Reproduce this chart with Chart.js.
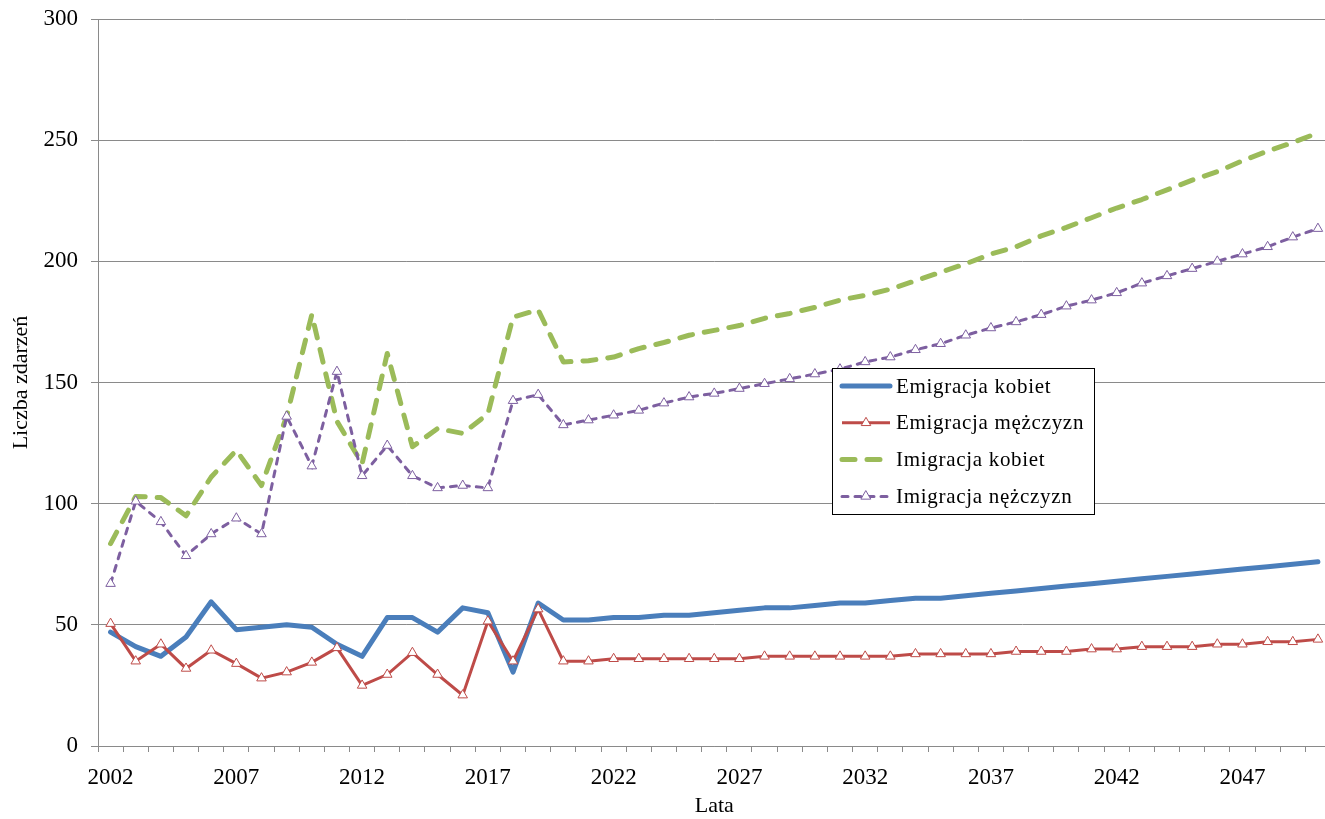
<!DOCTYPE html>
<html>
<head>
<meta charset="utf-8">
<script src="https://cdn.jsdelivr.net/npm/chart.js@4/dist/chart.umd.min.js"></script>
<style>
  html, body { margin: 0; padding: 0; background: #fff; overflow: hidden; }
  #wrap { width: 1337px; height: 819px; }
</style>
</head>
<body>
<div id="wrap"><canvas id="migChart" width="1337" height="819"></canvas></div>
<script>
const years = ['2002','2003','2004','2005','2006','2007','2008','2009','2010','2011',
  '2012','2013','2014','2015','2016','2017','2018','2019','2020','2021',
  '2022','2023','2024','2025','2026','2027','2028','2029','2030','2031',
  '2032','2033','2034','2035','2036','2037','2038','2039','2040','2041',
  '2042','2043','2044','2045','2046','2047','2048','2049','2050']

const shownYears = ['2002','2007','2012','2017','2022','2027','2032','2037','2042','2047']

const emigracjaKobiet = [47, 41, 37, 45, 59.5, 48, 49, 50, 49, 42,
  37, 53, 53, 47, 57, 55, 30.5, 59, 52, 52,
  53, 53, 54, 54, 55, 56, 57, 57, 58, 59,
  59, 60, 61, 61, 62, 63, 64, 65, 66, 67,
  68, 69, 70, 71, 72, 73, 74, 75, 76]

const emigracjaMezczyzn = [50.5, 35, 42, 32, 39.5, 34, 28, 30.5, 34.5, 40.5,
  25, 29.5, 38.5, 29.5, 21, 51.5, 35, 56.5, 35, 35,
  36, 36, 36, 36, 36, 36, 37, 37, 37, 37,
  37, 37, 38, 38, 38, 38, 39, 39, 39, 40,
  40, 41, 41, 41, 42, 42, 43, 43, 44]

const imigracjaKobiet = [83.5, 103, 102.5, 95, 111, 122, 107.5, 136, 178, 134,
  116.5, 162, 123.5, 131, 129, 137, 177, 180, 158.5, 159,
  160.5, 164, 166.5, 169.5, 171.5, 173.5, 176.5, 178.5, 181, 184,
  186, 188.5, 192, 195.5, 199, 203, 206, 210.5, 214, 218,
  222, 225.5, 229.5, 233.5, 237, 241.5, 245.5, 249, 253]

const imigracjaMezczyzn = [67, 101, 92.5, 78.5, 87.5, 94, 87.5, 136, 115.5, 154.5,
  111.5, 124, 111.5, 106.5, 107.5, 106.5, 142.5, 145, 132.5, 134.5,
  136.5, 138.5, 141.5, 144, 145.5, 147.5, 149.5, 151.5, 153.5, 155.5,
  158.5, 160.5, 163.5, 166, 169.5, 172.5, 175, 178, 181.5, 184,
  187, 191, 194, 197, 200, 203, 206, 210, 213.5]

const seriesNames = ['Emigracja kobiet', 'Emigracja mężczyzn', 'Imigracja kobiet', 'Imigracja nężczyzn']

const serif = '"Liberation Serif", "Times New Roman", serif'
const gridGray = '#8a8a8a'

// legend box drawn inside the plot, like the original
const boxLegend = {
  id: 'boxLegend',
  afterDraw(chart) {
    const ctx = chart.ctx
    const x = 832, y = 368, w = 262, h = 146
    ctx.save()
    ctx.fillStyle = '#fff'
    ctx.fillRect(x, y, w, h)
    ctx.strokeStyle = '#000'
    ctx.lineWidth = 1
    ctx.strokeRect(x + 0.5, y + 0.5, w, h)
    chart.data.datasets.forEach((ds, i) => {
      const cy = 386 + i * 36.8
      ctx.beginPath()
      ctx.strokeStyle = ds.borderColor
      ctx.lineWidth = ds.borderWidth
      ctx.lineCap = ds.borderCapStyle || 'butt'
      ctx.setLineDash(ds.borderDash || [])
      ctx.moveTo(842, cy)
      ctx.lineTo(890, cy)
      ctx.stroke()
      ctx.setLineDash([])
      if (ds.pointRadius > 0) {
        const r = ds.pointRadius
        ctx.beginPath()
        ctx.moveTo(866, cy - r)
        ctx.lineTo(866 + r * 0.866, cy + r * 0.5)
        ctx.lineTo(866 - r * 0.866, cy + r * 0.5)
        ctx.closePath()
        ctx.fillStyle = '#fff'
        ctx.fill()
        ctx.lineWidth = 1
        ctx.strokeStyle = ds.pointBorderColor
        ctx.stroke()
      }
      ctx.fillStyle = '#000'
      ctx.font = '21px ' + serif
      ctx.letterSpacing = '0.7px'
      ctx.textBaseline = 'middle'
      ctx.fillText(ds.label, 896, cy + 1)
      ctx.letterSpacing = '0px'
    })
    ctx.restore()
  }
}

const ctx = document.getElementById('migChart')
new Chart(ctx, {
  type: 'line',
  data: {
    labels: years,
    datasets: [
      {
        label: seriesNames[0],
        data: emigracjaKobiet,
        borderColor: '#4a7ebb',
        borderWidth: 5,
        borderCapStyle: 'round',
        borderJoinStyle: 'round',
        pointRadius: 0,
        order: 4
      },
      {
        label: seriesNames[1],
        data: emigracjaMezczyzn,
        borderColor: '#be4b48',
        borderWidth: 3,
        pointStyle: 'triangle',
        pointRadius: 5.5,
        pointBackgroundColor: '#fff',
        pointBorderColor: '#be4b48',
        pointBorderWidth: 1,
        order: 3
      },
      {
        label: seriesNames[2],
        data: imigracjaKobiet,
        borderColor: '#9bbb59',
        borderWidth: 5,
        borderDash: [13, 12],
        borderCapStyle: 'round',
        borderJoinStyle: 'round',
        pointRadius: 0,
        order: 2
      },
      {
        label: seriesNames[3],
        data: imigracjaMezczyzn,
        borderColor: '#7d5fa0',
        borderWidth: 3,
        borderDash: [6, 7],
        borderCapStyle: 'round',
        pointStyle: 'triangle',
        pointRadius: 5.5,
        pointBackgroundColor: '#fff',
        pointBorderColor: '#7d5fa0',
        pointBorderWidth: 1,
        order: 1
      }
    ]
  },
  options: {
    responsive: false,
    animation: false,
    layout: { padding: { top: 19, left: 0, right: 0, bottom: 0 } },
    elements: { line: { tension: 0 } },
    plugins: {
      legend: { display: false },
      tooltip: { enabled: false }
    },
    scales: {
      x: {
        offset: true,
        afterFit: (scale) => { scale.height = 73 },
        grid: { display: true, drawOnChartArea: false, drawTicks: true, offset: true, tickLength: 6, color: gridGray },
        border: { color: gridGray, width: 1 },
        ticks: {
          autoSkip: false,
          maxRotation: 0,
          padding: 12,
          color: '#000',
          font: { family: serif, size: 23 },
          callback: function (val) {
            const lab = this.getLabelForValue(val)
            return shownYears.includes(lab) ? lab : ''
          }
        },
        title: { display: true, text: 'Lata', color: '#000', font: { family: serif, size: 22 }, padding: { top: 0, bottom: 0 } }
      },
      y: {
        min: 0,
        max: 300,
        afterFit: (scale) => {
          scale.width = 98
          scale.paddingTop = 0
          scale.paddingBottom = 0
        },
        grid: { color: gridGray, lineWidth: 1, tickLength: 7 },
        border: { color: gridGray, width: 1 },
        ticks: { stepSize: 50, padding: 13, color: '#000', font: { family: serif, size: 23 } },
        title: { display: true, text: 'Liczba zdarzeń', color: '#000', font: { family: serif, size: 22 }, padding: { top: 8, bottom: 0 } }
      }
    }
  },
  plugins: [boxLegend]
})
</script>
</body>
</html>
